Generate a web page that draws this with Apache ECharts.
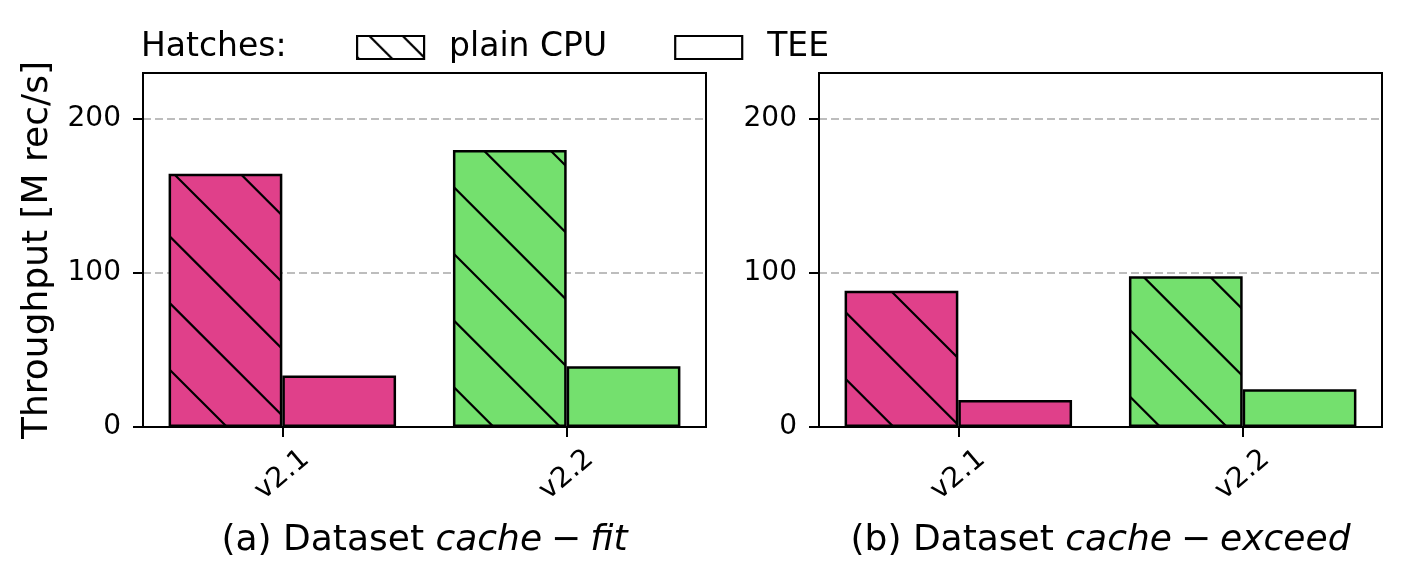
<!DOCTYPE html>
<html><head><meta charset="utf-8">
<script src="https://cdn.jsdelivr.net/npm/echarts@6/dist/echarts.min.js"></script>
<style>html,body{margin:0;padding:0;background:#fff}#c{width:1402px;height:579px}</style>
</head><body><div id="c"></div>
<script>
const categories = ['v2.1', 'v2.2'];
const fitPlain = [164.5, 180];
const fitTee = [33.5, 39.5];
const exceedPlain = [88.5, 98];
const exceedTee = [17.5, 24.5];
const yTicks = [0, 100, 200];
const xTicks = [0, 1];
const seriesNames = ['plain CPU', 'TEE'];
const panelTitles = [['(a) Dataset ', 'cache', 'fit'], ['(b) Dataset ', 'cache', 'exceed']];
const catColors = ['#e0408a', '#74e06e'];

const FONT = 'DejaVu Sans';
const GRID_W = 563, GRID_H = 354, GRID_TOP = 73;
const XMIN = -0.49, XMAX = 1.49;
const BAR_W = 0.4 * GRID_W / (XMAX - XMIN);

function hatch(bg, tile, spacing, phase, lw) {
  const cv = document.createElement('canvas');
  cv.width = tile; cv.height = tile;
  const ctx = cv.getContext('2d');
  ctx.fillStyle = bg; ctx.fillRect(0, 0, tile, tile);
  ctx.strokeStyle = '#000'; ctx.lineWidth = lw;
  ctx.beginPath();
  for (let c = -2 * tile + phase; c <= 2 * tile; c += spacing) {
    ctx.moveTo(-20, -20 + c); ctx.lineTo(tile + 20, tile + 20 + c);
  }
  ctx.stroke();
  return { image: cv, repeat: 'repeat' };
}
const barHatch = catColors.map(c => hatch(c, 200, 200 / 3, 0, 2.2));
const legendHatch = hatch('#ffffff', 100, 100 / 3, 21, 2.2);

const panels = [[fitPlain, fitTee], [exceedPlain, exceedTee]];
const gridLefts = [143, 819];

const grids = gridLefts.map(l => ({ left: l, top: GRID_TOP, width: GRID_W, height: GRID_H, show: true, borderColor: '#000', borderWidth: 2, containLabel: false }));

const xAxes = panelTitles.map((t, gi) => ({
  type: 'value', gridIndex: gi, min: XMIN, max: XMAX,
  axisLine: { show: true, onZero: false, lineStyle: { color: '#000', width: 2 } },
  axisTick: { show: true, customValues: xTicks, length: 10, lineStyle: { color: '#000', width: 2 } },
  axisLabel: { customValues: xTicks, formatter: v => categories[Math.round(v)], rotate: 40, align: 'center', verticalAlign: 'middle', margin: 48, fontSize: 28, color: '#000', fontFamily: FONT },
  splitLine: { show: false },
  name: `{n|${t[0]}}{i|${t[1]}}{n|\u2005−\u2005}{i|${t[2]}}`,
  nameLocation: 'middle', nameGap: 96,
  nameTextStyle: { fontSize: 36, color: '#000', fontFamily: FONT,
    rich: { n: { fontSize: 36, color: '#000', fontFamily: FONT }, i: { fontSize: 36, color: '#000', fontFamily: FONT, fontStyle: 'italic' } } }
}));

const yAxes = panelTitles.map((t, gi) => ({
  type: 'value', gridIndex: gi, min: 0, max: 230, interval: 100,
  axisLine: { show: true, onZero: false, lineStyle: { color: '#000', width: 2 } },
  axisTick: { show: true, customValues: yTicks, length: 10, lineStyle: { color: '#000', width: 2 } },
  axisLabel: { customValues: yTicks, margin: 22, fontSize: 28, color: '#000', fontFamily: FONT },
  splitLine: { show: true, showMinLine: false, showMaxLine: true, lineStyle: { color: '#a8a8a8', width: 1.6, type: [8, 4] } },
  name: gi === 0 ? 'Throughput [M rec/s]' : '',
  nameLocation: 'middle', nameGap: 87,
  nameTextStyle: { fontSize: 36, color: '#000', fontFamily: FONT }
}));

const series = [];
panels.forEach((vals, gi) => {
  vals.forEach((arr, si) => {
    series.push({
      type: 'bar', name: seriesNames[si], xAxisIndex: gi, yAxisIndex: gi,
      barWidth: BAR_W, barGap: '0%',
      itemStyle: { color: si === 0 ? legendHatch : '#ffffff', borderColor: '#000', borderWidth: 2.5 },
      data: arr.map((v, i) => ({ value: [xTicks[i], v], itemStyle: { color: si === 0 ? barHatch[i] : catColors[i] } }))
    });
  });
});

const chart = echarts.init(document.getElementById('c'), null, { renderer: 'canvas' });
chart.setOption({
  animation: false,
  backgroundColor: '#fff',
  title: { text: 'Hatches:', left: 141, top: 31, padding: 0, textStyle: { fontSize: 33, fontWeight: 'normal', color: '#000', fontFamily: FONT } },
  legend: { left: 356, top: 31, padding: 0, itemWidth: 67, itemHeight: 23, itemGap: 67, icon: 'rect', selectedMode: false,
    itemStyle: { borderWidth: 2.2, borderColor: '#000' },
    data: seriesNames, textStyle: { fontSize: 33, color: '#000', fontFamily: FONT, padding: [0, 0, 0, 20] } },
  grid: grids, xAxis: xAxes, yAxis: yAxes, series
});
</script></body></html>
